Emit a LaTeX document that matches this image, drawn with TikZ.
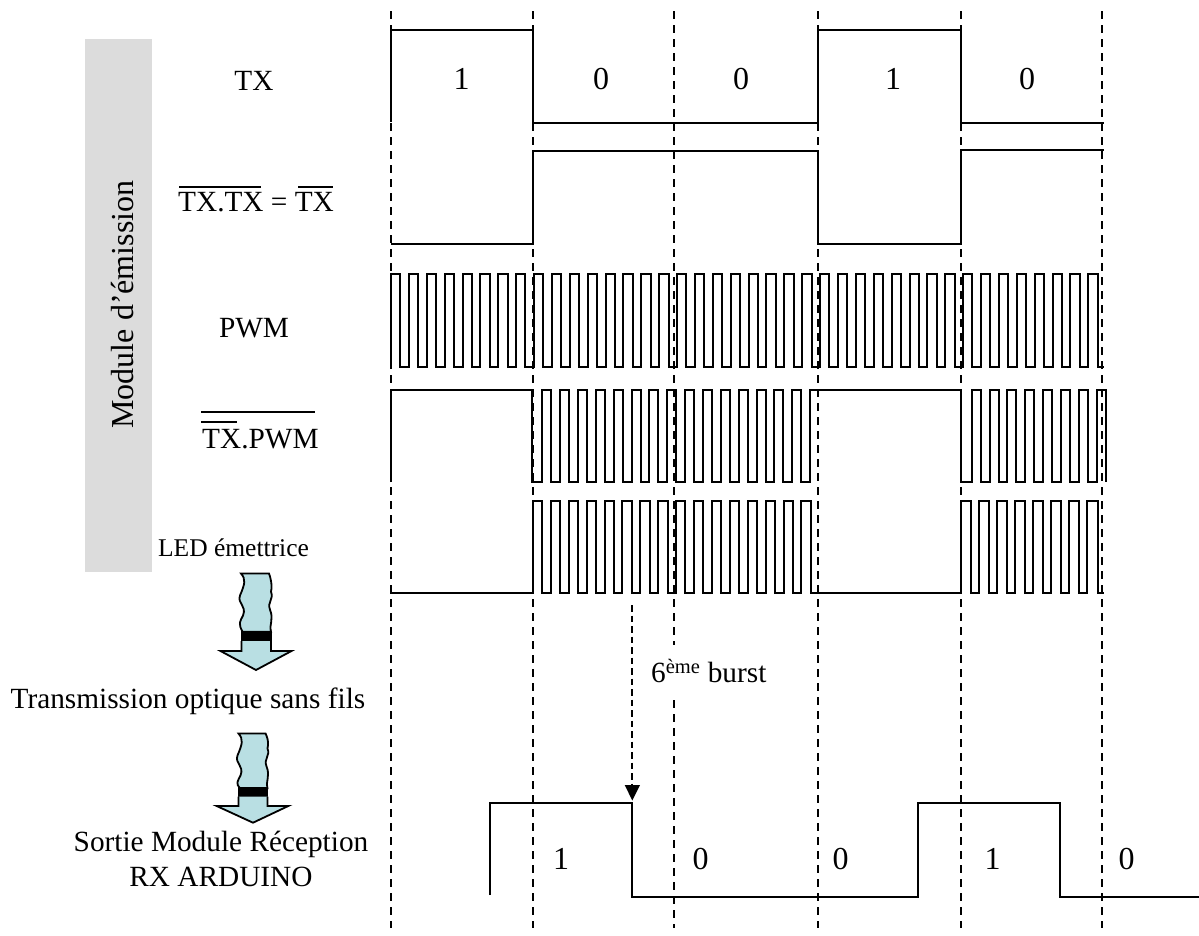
\documentclass[tikz,border=0pt]{standalone}
\usepackage{fontspec}
\setmainfont{Liberation Serif}
\definecolor{panelgrey}{HTML}{DCDCDC}
\definecolor{arrowblue}{HTML}{B9DFE3}
\tikzset{
  sig/.style={line width=1.9pt,line join=miter,black},
  guide/.style={line width=1.9pt,black,dash pattern=on 7.5pt off 6.5pt},
  lbl/.style={inner sep=0pt,anchor=base,font=\fontsize{29.3}{32}\selectfont,text=black},
  bit/.style={inner sep=0pt,anchor=base,font=\fontsize{32}{34}\selectfont,text=black},
  bar/.style={line width=1.8pt,black},
  fat/.style={line width=1.8pt,black,fill=arrowblue,line join=miter},
}
\newcommand{\wavyarrow}[7]{%
  \draw[fat] (#1,\ya)
    .. controls ({#1+5},{\ya+6}) and ({#1+4},{\ya+10}) .. ({#1-1},{\ya+22})
    .. controls ({#1-4},{\ya+30}) and ({#1+6},{\ya+32}) .. ({#1+2},{\ya+42})
    .. controls ({#1-1},{\ya+48}) and ({#1-3},{\ya+50}) .. ({#1+1.5},\yb)
    -- (#2,\yb)
    .. controls ({#2-2},{\yb-8}) and ({#2+3},{\yb-12}) .. ({#2-1},{\yb-22})
    .. controls ({#2-4},{\yb-30}) and ({#2+3},{\yb-32}) .. ({#2},{\yb-40})
    .. controls ({#2+2},{\yb-48}) and ({#2-2},\ya) .. ({#2-2},\ya)
    -- cycle;
  \fill[black] (#3,\yb) rectangle (#4,\yc);
  \draw[line width=1.8pt,black] (#3,\yb) rectangle (#4,\yc);
  \draw[fat] (#3,\yc) -- (#3,\yd) -- (#5,\yd) -- (#7,\ye) -- (#6,\yd) -- (#4,\yd) -- (#4,\yc);
}
\begin{document}
\begin{tikzpicture}[x=1pt,y=-1pt]
\useasboundingbox (0,0) rectangle (1199,935);
% grey panel
\fill[panelgrey] (85,39) rectangle (152,572);
\node[lbl,anchor=center,rotate=90,font=\fontsize{32}{34}\selectfont] (module) at (123,304.5) {Module d’émission};

% guides
\coordinate (ga) at (391,11.3); \coordinate (gab) at (391,928);
\coordinate (gb) at (533,11.3); \coordinate (gbb) at (533,928);
\coordinate (gc) at (674,11.3); \coordinate (gcm) at (674,645);
\coordinate (gcn) at (674,700); \coordinate (gcb) at (674,928);
\coordinate (gd) at (818,11.3); \coordinate (gdb) at (818,928);
\coordinate (ge) at (961,11.3); \coordinate (geb) at (961,928);
\coordinate (gf) at (1102,11.3); \coordinate (gfb) at (1102,928);
\draw[guide] (ga) -- (gab);
\draw[guide] (gb) -- (gbb);
\draw[guide] (gc) -- (gcm);
\draw[guide] (gcn) -- (gcb);
\draw[guide] (gd) -- (gdb);
\draw[guide] (ge) -- (geb);
\draw[guide] (gf) -- (gfb);

% TX
\draw[sig] (391,122) -- (391,30) -- (533,30) -- (533,123) -- (818,123) -- (818,30) -- (961,30) -- (961,123) -- (1104,123);
% not TX
\draw[sig] (391,244) -- (533,244) -- (533,151) -- (818,151) -- (818,244) -- (961,244) -- (961,150) -- (1104,150);
% PWM
\draw[sig] (391,367)
  \foreach \k in {0,...,38}{ -- ({round(391+\k*17.88)},274) -- ({round(400.3+\k*17.88)},274) -- ({round(400.3+\k*17.88)},367) -- ({round(391+(\k+1)*17.88)},367)}
  -- ++(0,-93) -- (1098,274) -- (1098,367) -- (1104,367);
% not(not TX . PWM)
\draw[sig] (391,482) -- (391,390) -- (532,390) -- (532,482)
  \foreach \k in {0,...,14}{ -- ({round(542.3+\k*17.85)},482) -- ({round(542.3+\k*17.85)},390) -- ({round(551.3+\k*17.85)},390) -- ({round(551.3+\k*17.85)},482)}
  -- (810,482) -- (810,390) -- (961,390) -- (961,482)
  \foreach \k in {0,...,6}{ -- ({round(971.7+\k*17.85)},482) -- ({round(971.7+\k*17.85)},390) -- ({round(980.7+\k*17.85)},390) -- ({round(980.7+\k*17.85)},482)}
  -- (1097,482) -- (1097,390) -- (1106,390) -- (1106,482);
% LED
\draw[sig] (391,588) -- (391,593) -- (533,593)
  \foreach \k in {0,...,14}{ -- ({round(533+\k*17.9)},501) -- ({round(542.3+\k*17.9)},501) -- ({round(542.3+\k*17.9)},593) -- ({round(533+(\k+1)*17.9)},593)}
  -- ++(0,-92) -- (811,501) -- (811,593) -- (961,593)
  \foreach \k in {0,...,6}{ -- ({961+\k*18},501) -- ({971+\k*18},501) -- ({971+\k*18},593) -- ({961+(\k+1)*18},593)}
  -- ++(0,-92) -- (1098,501) -- (1098,593) -- (1104,593);
% RX
\coordinate (rxdrop) at (632,803);
\draw[sig] (490,895) -- (490,803) -- (rxdrop) -- (632,897) -- (918,897) -- (918,803) -- (1060,803) -- (1060,897) -- (1199,897);

% burst arrow
\coordinate (bursttop) at (632.3,605);
\coordinate (bursttip) at (632.3,785);
\draw[line width=1.8pt,black,dash pattern=on 6.5pt off 4pt] (bursttop) -- (bursttip);
\fill[black] (624.7,785) -- (640,785) -- (632.3,800.5) -- cycle;
\node[lbl,anchor=base west] (burst) at (651,682.7) {6\textsuperscript{ème} burst};

% labels
\node[lbl] (ltx) at (254,90.7) {TX};
\node[lbl,anchor=base west] (lntx) at (178,211.7) {TX.TX = TX};
\draw[bar] (179,186.7) -- (260.7,186.7);
\draw[bar] (298,186.7) -- (333,186.7);
\node[lbl] (lpwm) at (254,337) {PWM};
\node[lbl,anchor=base west] (lnpwm) at (202,448.5) {TX.PWM};
\draw[bar] (201,412) -- (314.5,412);
\draw[bar] (201,421.7) -- (236.7,421.7);
\node[lbl,font=\fontsize{25.5}{28}\selectfont] (lled) at (233.5,556) {LED émettrice};
\node[lbl] (ltrans) at (188,708) {Transmission optique sans fils};
\node[lbl] (lsortie) at (221,851.7) {Sortie Module Réception};
\node[lbl] (lrx) at (221,886) {RX ARDUINO};

% bits
\node[bit] (b1) at (461.7,89.3) {1};
\node[bit] (b2) at (601,89.3) {0};
\node[bit] (b3) at (741,89.3) {0};
\node[bit] (b4) at (893,89.3) {1};
\node[bit] (b5) at (1027,89.3) {0};
\node[bit] (r1) at (561,869.3) {1};
\node[bit] (r2) at (700.7,869.3) {0};
\node[bit] (r3) at (840.7,869.3) {0};
\node[bit] (r4) at (992.7,869.3) {1};
\node[bit] (r5) at (1126.7,869.3) {0};

% block arrows
\def\ya{573.5}\def\yb{631.7}\def\yc{641}\def\yd{651}\def\ye{670}
\wavyarrow{241}{271}{241.5}{271}{220.5}{291.5}{256}
\def\ya{733.5}\def\yb{788.3}\def\yc{796.7}\def\yd{806}\def\ye{822.7}
\wavyarrow{238.5}{267.5}{238.5}{267.5}{216.7}{288.3}{253}
\end{tikzpicture}
\end{document}
